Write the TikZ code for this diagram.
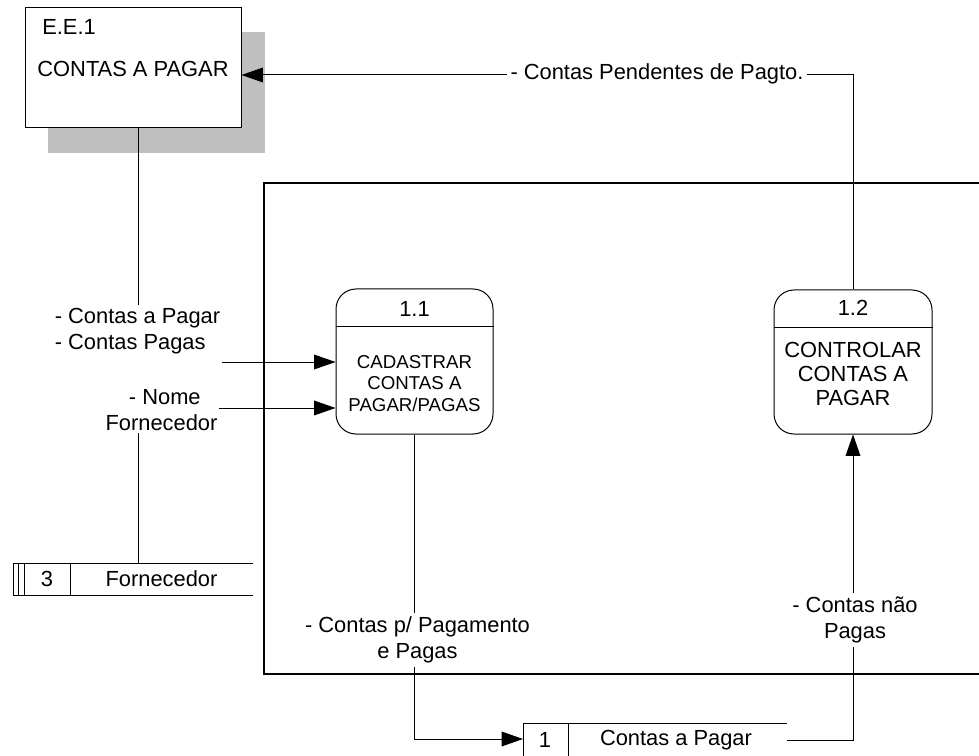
\documentclass[tikz,border=0pt]{standalone}
\usepackage{fontspec}
\setmainfont{Liberation Sans}
\usetikzlibrary{arrows.meta}
\newcommand{\fsA}{\fontsize{16.4pt}{19pt}\selectfont}
\newcommand{\fsB}{\fontsize{14pt}{16.2pt}\selectfont}
\begin{document}
\begin{tikzpicture}[x=0.75pt,y=-0.75pt,
  line/.style={line width=0.75pt,black},
  flow/.style={line width=0.75pt,-{Triangle[length=16pt,width=11pt]}},
  txt/.style={font=\fsA,inner sep=0pt},
  lbl/.style={font=\fsA,fill=white,inner xsep=1pt,inner ysep=3pt,align=center},
  proc/.style={draw,line width=0.75pt,rounded corners=15pt,fill=white},
  every node/.style={text=black}]
\clip (0,0) rectangle (979,756);
\fill[white] (0,0) rectangle (979,756);

% external entity
\fill[black!25] (48,32) rectangle (265,153);
\node (ee) [draw,line width=0.75pt,fill=white,minimum width=216*0.75pt,minimum height=120*0.75pt,inner sep=0pt] at (133,68) {};
\node (eeid) [txt,anchor=west] at (42,27) {E.E.1};
\node (eename) [txt] at (133,69) {CONTAS A PAGAR};

% system boundary
\draw[line width=1.5pt] (264,183) rectangle (1010,674);

% processes
\node (p11) [proc,minimum width=157*0.75pt,minimum height=145*0.75pt] at (414.5,361.5) {};
\draw[line] (p11.west |- 0,326) -- (p11.east |- 0,326);
\node (p11id) [txt] at (414.5,309) {1.1};
\node (p11name) [txt,font=\fsB,align=center] at (414.5,383.5) {CADASTRAR\\CONTAS A\\PAGAR/PAGAS};

\node (p12) [proc,minimum width=158*0.75pt,minimum height=144*0.75pt] at (853,362) {};
\draw[line] (p12.west |- 0,327) -- (p12.east |- 0,327);
\node (p12id) [txt] at (853,308) {1.2};
\node (p12name) [txt,align=center,font=\fontsize{16.4pt}{18pt}\selectfont] at (853,374) {CONTROLAR\\CONTAS A\\PAGAR};

% data store 3
\draw[line] (253,563) -- (13,563) -- (13,595) -- (253,595);
\draw[line] (18,563) -- (18,595);
\draw[line] (24,563) -- (24,595);
\draw[line] (70,563) -- (70,595);
\node (s3id) [txt] at (47,579) {3};
\node (s3) [txt] at (161.5,579) {Fornecedor};
\coordinate (s3top) at (138,563);

% data store 1
\draw[line] (787,723) -- (523,723) -- (523,760) ;
\draw[line] (568,723) -- (568,760);
\node (s1id) [txt] at (545,740) {1};
\node (s1) [txt] at (676,740) {Contas a Pagar};
\coordinate (s1w) at (523,739);
\coordinate (s1e) at (787,740);

% labels
\node (l1) [lbl,align=left,inner ysep=2pt] at (137.5,331) {- Contas a Pagar\\- Contas Pagas};
\node (l2) [lbl,inner ysep=2pt] at (161.5,410) {\hspace*{5pt}- Nome\\Fornecedor};

% flows
\draw[line] (ee.south -| 138,0) -- (l1.north -| 138,0);
\draw[flow] (l1.east |- 0,362) -- (p11.west |- 0,362);
\draw[line] (s3top) -- (l2.south -| s3top);
\draw[flow] (l2.east |- 0,408) -- (p11.west |- 0,408);

\draw[flow] (p12.north) |- (ee.east |- 0,75);
\node (l5) [lbl,inner xsep=3pt] at (657,74) {- Contas Pendentes de Pagto.};

\draw[flow] (p11.south) |- (s1w);
\node (l3) [lbl] at (417.5,640) {- Contas p/ Pagamento\\e Pagas};

\draw[flow] (s1e) -| (p12.south);
\node (l4) [lbl] at (855,620) {- Contas não\\Pagas};
\end{tikzpicture}
\end{document}
